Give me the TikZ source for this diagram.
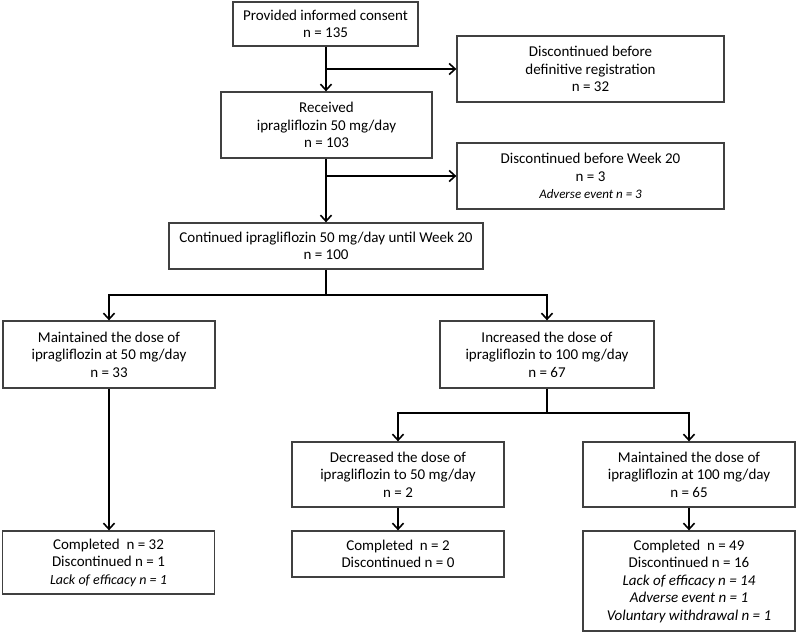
\documentclass[tikz,border=0pt]{standalone}
\usepackage{fontspec}
\setmainfont{Carlito}
\usetikzlibrary{arrows.meta}
\tikzset{
  box/.style={draw=black!75, line width=1.3pt, rectangle, inner sep=0pt, align=center,
    font=\fontsize{15}{17.5}\selectfont},
  arr/.style={line width=2pt, -{Straight Barb[length=6pt,width=11pt,line width=1.6pt]}},
  ln/.style={line width=2pt},
}
\newcommand{\itl}[2]{{\fontsize{#1}{17.5}\selectfont\itshape #2}}
\begin{document}
\begin{tikzpicture}[x=1pt,y=-1pt]
\useasboundingbox (0,0) rectangle (797,634);
\node[box, minimum width=185pt, minimum height=44pt] (b1) at (325.5,24) {Provided informed consent\\n = 135};
\node[box, minimum width=267pt, minimum height=66pt] (b2) at (590.5,69) {Discontinued before\\definitive registration\\n = 32};
\node[box, minimum width=211pt, minimum height=66pt] (b3) at (326.5,125) {Received\\ipragliflozin 50 mg/day\\n = 103};
\node[box, minimum width=267pt, minimum height=66pt] (b4) at (590.5,176) {Discontinued before Week 20\\n = 3\\\itl{13}{Adverse event n = 3}};
\node[box, minimum width=314pt, minimum height=46pt] (b5) at (326,246) {Continued ipragliflozin 50 mg/day until Week 20\\n = 100};
\node[box, minimum width=212pt, minimum height=67pt] (b6) at (109,354.5) {Maintained the dose of\\ipragliflozin at 50 mg/day\\n = 33};
\node[box, minimum width=214pt, minimum height=67pt] (b7) at (547,354.5) {Increased the dose of\\ipragliflozin to 100 mg/day\\n = 67};
\node[box, minimum width=212pt, minimum height=65pt] (b8) at (398,474.5) {Decreased the dose of\\ipragliflozin to 50 mg/day\\n = 2};
\node[box, minimum width=212pt, minimum height=65pt] (b9) at (689,474.5) {Maintained the dose of\\ipragliflozin at 100 mg/day\\n = 65};
\node[box, minimum width=212pt, minimum height=63pt] (b10) at (108.5,562.5) {Completed\ \ n = 32\\Discontinued n = 1\\\itl{14}{Lack of efficacy n = 1}};
\node[box, minimum width=212pt, minimum height=46pt] (b11) at (398,554) {Completed\ \ n = 2\\Discontinued n = 0};
\node[box, minimum width=212pt, minimum height=100pt] (b12) at (689,581) {Completed\ \ n = 49\\Discontinued n = 16\\\itl{15}{Lack of efficacy n = 14}\\\itl{15}{Adverse event n = 1}\\\itl{15}{Voluntary withdrawal n = 1}};
\coordinate (m1) at (326,69);
\coordinate (m2) at (326,176);
\coordinate (j1) at (326,295);
\coordinate (j2) at (547,413);
\draw[arr] (b1.south -| m1) -- (b3.north -| m1);
\draw[arr] (m1) -- (b2.west);
\draw[arr] (b3.south -| m2) -- (b5.north -| m2);
\draw[arr] (m2) -- (b4.west);
\draw[ln] (b5.south -| j1) -- (j1);
\draw[arr] (j1) -| (b6.north);
\draw[arr] (j1) -| (b7.north);
\draw[arr] (b6.south) -- (b10.north -| b6.south);
\draw[ln] (b7.south) -- (j2);
\draw[arr] (j2) -| (b8.north);
\draw[arr] (j2) -| (b9.north);
\draw[arr] (b8.south) -- (b11.north);
\draw[arr] (b9.south) -- (b12.north);
\end{tikzpicture}
\end{document}
